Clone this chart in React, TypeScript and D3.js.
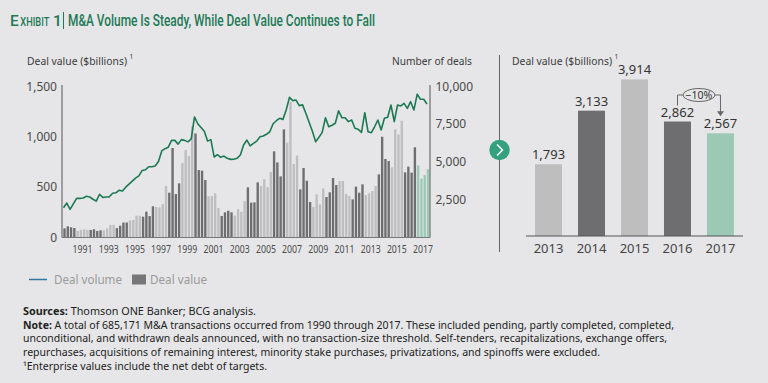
import React from 'react';
import * as d3 from 'd3';

// ---------- DATA ----------
const quarterYears: number[] = [
  1990, 1991, 1992, 1993, 1994, 1995, 1996, 1997, 1998, 1999, 2000, 2001, 2002, 2003,
  2004, 2005, 2006, 2007, 2008, 2009, 2010, 2011, 2012, 2013, 2014, 2015, 2016, 2017,
];

// Quarterly deal value ($billions), 4 per year
const dealValueQ: number[] = [
  86, 106, 96, 89, // 1990
  60, 70, 76, 70, // 1991
  70, 76, 60, 66, // 1992
  66, 85, 120, 120, // 1993
  88, 112, 144, 144, // 1994
  165, 170, 213, 210, // 1995
  202, 252, 208, 305, // 1996
  298, 295, 328, 506, // 1997
  440, 884, 427, 533, // 1998
  735, 864, 804, 1102, // 1999
  1029, 665, 659, 566, // 2000
  404, 407, 433, 288, // 2001
  209, 245, 261, 245, // 2002
  212, 275, 251, 357, // 2003
  493, 341, 344, 543, // 2004
  506, 573, 497, 645, // 2005
  851, 741, 602, 1069, // 2006
  937, 1344, 725, 808, // 2007
  473, 685, 559, 348, // 2008
  298, 424, 324, 483, // 2009
  397, 444, 586, 516, // 2010
  556, 556, 427, 407, // 2011
  374, 500, 440, 523, // 2012
  417, 434, 457, 506, // 2013
  622, 996, 775, 755, // 2014
  692, 1069, 1019, 1155, // 2015
  642, 699, 639, 891, // 2016
  712, 580, 616, 675, // 2017
];

// Quarterly number of deals
const dealVolumeQ: number[] = [
  1940, 2250, 1830, 2200, // 1990
  2560, 2560, 2580, 2700, // 1991
  2650, 2500, 2380, 2830, // 1992
  2620, 2650, 2660, 2900, // 1993
  2930, 3100, 3050, 3300, // 1994
  3500, 3700, 3900, 4050, // 1995
  4400, 4450, 4650, 4650, // 1996
  4700, 5000, 5700, 5850, // 1997
  5950, 6400, 6400, 6150, // 1998
  6450, 6400, 6300, 6500, // 1999
  7950, 7500, 7250, 7000, // 2000
  6350, 6450, 5300, 5450, // 2001
  5280, 5360, 5210, 5140, // 2002
  5150, 5210, 5430, 6090, // 2003
  6420, 6030, 6200, 6350, // 2004
  6640, 6690, 6800, 6970, // 2005
  7500, 7700, 7860, 7790, // 2006
  8410, 9250, 9030, 9070, // 2007
  8700, 8750, 8200, 7600, // 2008
  7000, 6310, 6600, 6930, // 2009
  7900, 7300, 7400, 7530, // 2010
  8360, 7900, 7900, 7640, // 2011
  7750, 7200, 7130, 6930, // 2012
  8230, 6970, 6910, 7300, // 2013
  7750, 7090, 7860, 7930, // 2014
  8740, 7640, 8740, 8680, // 2015
  8850, 8520, 8960, 8410, // 2016
  9450, 9120, 9120, 8810, // 2017
];

const leftTicks: number[] = [0, 500, 1000, 1500];
const rightTicks: number[] = [2500, 5000, 7500, 10000];
const xTickYears: number[] = [1991, 1993, 1995, 1997, 1999, 2001, 2003, 2005, 2007, 2009, 2011, 2013, 2015, 2017];

const annualYears: number[] = [2013, 2014, 2015, 2016, 2017];
const annualValues: number[] = [1793, 3133, 3914, 2862, 2567];
const annualLabels: string[] = ['1,793', '3,133', '3,914', '2,862', '2,567'];

// ---------- STYLE ----------
const BG = '#e6e6e8';
const DARK = '#6e6e70';
const LIGHT = '#bebebf';
const GREENBAR = '#9cc9b6';
const LINE = '#1c7a52';
const TITLE = '#1d7a55';
const FONT = "'Noto Sans', 'Open Sans', sans-serif";

export default function App() {
  const n = dealValueQ.length;
  const idx = d3.range(n);
  const xL = d3.scaleBand<number>().domain(idx).range([63, 429.5]).paddingInner(0.28).paddingOuter(0.1);
  const yL = d3.scaleLinear().domain([0, 1500]).range([237, 86]);
  const yR = d3.scaleLinear().domain([0, 10000]).range([237, 86]);
  const bw = xL.bandwidth();

  const barColor = (i: number) => {
    const yr = quarterYears[Math.floor(i / 4)];
    if (yr === 2017) return GREENBAR;
    return (yr - 1990) % 2 === 0 ? DARK : LIGHT;
  };

  const line = d3
    .line<number>()
    .x((_, i) => (xL(i) as number) + bw / 2 - 1)
    .y((d) => yR(d));

  const yearCenter = (yr: number) => {
    const k = quarterYears.indexOf(yr);
    const a = xL(k * 4) as number;
    const b = (xL(k * 4 + 3) as number) + bw;
    return (a + b) / 2;
  };

  // right chart
  const xA = d3.scaleBand<number>().domain(annualYears).range([526, 743]).paddingInner(0.372).paddingOuter(0.21);
  const yA = d3.scaleLinear().domain([0, 4000]).range([236, 76]);
  const abw = xA.bandwidth();
  const annColor = [LIGHT, DARK, LIGHT, DARK, GREENBAR];

  const x16 = (xA(2016) as number) + abw / 2;
  const x17 = (xA(2017) as number) + abw / 2;
  const yTop = 95;
  const y16 = yA(annualValues[3]) - 16;
  const y17 = yA(annualValues[4]) - 17;
  const ex = (x16 + x17) / 2;

  const noteLines = [
    { bold: 'Sources:', rest: ' Thomson ONE Banker; BCG analysis.', w: 233, y: 315 },
    {
      bold: 'Note:',
      rest: ' A total of 685,171 M&A transactions occurred from 1990 through 2017. These included pending, partly completed, completed,',
      w: 651,
      y: 328.5,
    },
    {
      bold: '',
      rest: 'unconditional, and withdrawn deals announced, with no transaction-size threshold. Self-tenders, recapitalizations, exchange offers,',
      w: 644,
      y: 342,
    },
    {
      bold: '',
      rest: 'repurchases, acquisitions of remaining interest, minority stake purchases, privatizations, and spinoffs were excluded.',
      w: 577,
      y: 355.5,
    },
    { bold: '', rest: '\u00B9Enterprise values include the net debt of targets.', w: 244, y: 369.5 },
  ];

  return (
    <svg
      width={768}
      height={383}
      style={{ position: 'fixed', left: 0, top: 0, display: 'block' }}
      fontFamily={FONT}
    >
      <rect x={0} y={0} width={768} height={383} fill={BG} />

      {/* Title */}
      <text x={10} y={26} fill={TITLE} fontFamily="Roboto, sans-serif" fontWeight={500} fontSize={15.5}>
        E
      </text>
      <g transform="translate(20.3,26) scale(0.74,1)">
        <text x={0} y={0} fill={TITLE} fontFamily="Roboto, sans-serif" fontWeight={500} fontSize={12.5}>
          XHIBIT
        </text>
      </g>
      <text x={53} y={26} fill={TITLE} fontFamily="Roboto, sans-serif" fontWeight={500} fontSize={15.5}>
        1
      </text>
      <line x1={63.5} x2={63.5} y1={12} y2={29} stroke={TITLE} strokeWidth={1} />
      <text
        x={68}
        y={26}
        fill={TITLE}
        fontFamily="Roboto, sans-serif"
        fontWeight={500}
        fontSize={16.5}
        textLength={307}
        lengthAdjust="spacingAndGlyphs"
      >
        M&amp;A Volume Is Steady, While Deal Value Continues to Fall
      </text>

      {/* Left chart axis titles */}
      <text x={27} y={65} fontSize={10.2} fill="#3c3c3c" textLength={100} lengthAdjust="spacingAndGlyphs">
        Deal value ($billions)
      </text>
      <text x={129.5} y={59} fontSize={6.5} fill="#3c3c3c">
        1
      </text>
      <text x={472} y={65} fontSize={10.5} fill="#3c3c3c" textAnchor="end" textLength={80} lengthAdjust="spacingAndGlyphs">
        Number of deals
      </text>

      {/* Bars */}
      {dealValueQ.map((v, i) => (
        <rect key={i} x={xL(i)} y={yL(v)} width={bw} height={yL(0) - yL(v)} fill={barColor(i)} />
      ))}

      {/* Axes */}
      <line x1={62} x2={62} y1={85} y2={237.5} stroke="#555" strokeWidth={1} />
      <line x1={430} x2={430} y1={85} y2={237.5} stroke="#555" strokeWidth={1} />
      <line x1={62} x2={430} y1={237.5} y2={237.5} stroke="#777" strokeWidth={1} />

      {/* Line */}
      <path d={line(dealVolumeQ) || ''} fill="none" stroke={LINE} strokeWidth={1.6} strokeLinejoin="round" />

      {/* Left ticks */}
      {leftTicks.map((t) => (
        <text key={t} x={57} y={yL(t) + 4.5} fontSize={12} fill="#4a4a4a" textAnchor="end">
          {d3.format(',')(t)}
        </text>
      ))}
      {rightTicks.map((t) => (
        <text key={t} x={435.5} y={yR(t) + 4.5} fontSize={12} fill="#4a4a4a">
          {d3.format(',')(t)}
        </text>
      ))}
      {xTickYears.map((yr) => (
        <text
          key={yr}
          x={yearCenter(yr) - 10}
          y={252.5}
          fontSize={10}
          fill="#4a4a4a"
          textLength={20}
          lengthAdjust="spacingAndGlyphs"
        >
          {yr}
        </text>
      ))}

      {/* Divider and chevron */}
      <line x1={499.5} x2={499.5} y1={55} y2={252} stroke="#666" strokeWidth={1} />
      <circle cx={499.5} cy={150} r={10.2} fill="#34a07e" />
      <path d="M497,144.5 L502.5,150 L497,155.5" fill="none" stroke="#fff" strokeWidth={1.5} />

      {/* Right chart */}
      <text x={512} y={65} fontSize={10.2} fill="#3c3c3c" textLength={100} lengthAdjust="spacingAndGlyphs">
        Deal value ($billions)
      </text>
      <text x={614.5} y={59} fontSize={6.5} fill="#3c3c3c">
        1
      </text>
      {annualYears.map((yr, i) => (
        <g key={yr}>
          <rect x={xA(yr)} y={yA(annualValues[i])} width={abw} height={yA(0) - yA(annualValues[i])} fill={annColor[i]} />
          <text x={(xA(yr) as number) + abw / 2} y={yA(annualValues[i]) - 5} fontSize={13} fill="#333" textAnchor="middle">
            {annualLabels[i]}
          </text>
          <text x={(xA(yr) as number) + abw / 2} y={253} fontSize={13} fill="#444" textAnchor="middle">
            {yr}
          </text>
        </g>
      ))}
      <line x1={526} x2={743} y1={236} y2={236} stroke="#555" strokeWidth={1.2} />

      {/* -10% annotation */}
      <path
        d={`M${x16},${y16} L${x16},${yTop} L${ex - 16},${yTop} M${ex + 16},${yTop} L${x17},${yTop} L${x17},${y17 - 4}`}
        fill="none"
        stroke="#666"
        strokeWidth={1}
      />
      <path d={`M${x17 - 3.5},${y17 - 5} L${x17 + 3.5},${y17 - 5} L${x17},${y17} Z`} fill="#666" />
      <ellipse cx={ex} cy={yTop} rx={16} ry={6.5} fill={BG} stroke="#666" strokeWidth={1} />
      <text x={ex} y={yTop + 3.8} fontSize={10.5} fill="#333" textAnchor="middle">
        {'\u221210%'}
      </text>

      {/* Legend */}
      <line x1={29} x2={47} y1={279.5} y2={279.5} stroke="#2f76a3" strokeWidth={1.5} />
      <text x={54} y={284} fontSize={12.5} fill="#9a9a9a" textLength={68} lengthAdjust="spacingAndGlyphs">
        Deal volume
      </text>
      <rect x={132} y={274.5} width={14} height={10} fill="#777" />
      <text x={150} y={284} fontSize={12.5} fill="#9a9a9a" textLength={57} lengthAdjust="spacingAndGlyphs">
        Deal value
      </text>

      {/* Notes */}
      {noteLines.map((l, i) => (
        <text key={i} x={23} y={l.y} fontSize={10.8} fill="#222" textLength={l.w} lengthAdjust="spacingAndGlyphs">
          {l.bold ? <tspan fontWeight={700}>{l.bold}</tspan> : null}
          {l.rest}
        </text>
      ))}
    </svg>
  );
}
